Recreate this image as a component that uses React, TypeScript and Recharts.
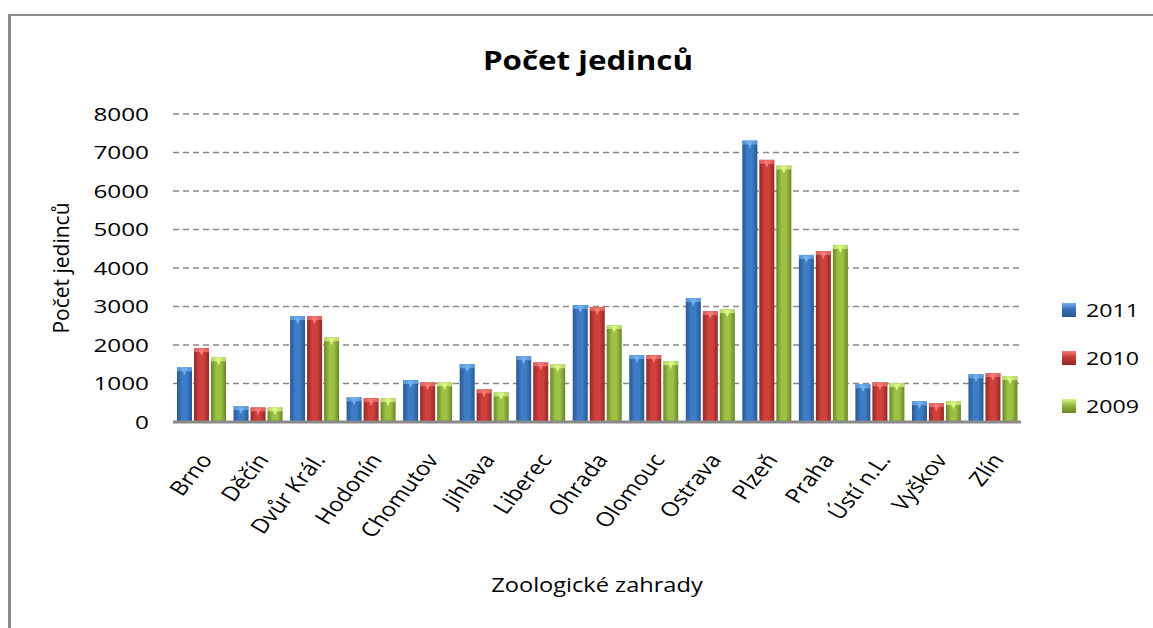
import { BarChart, Bar, XAxis, YAxis, CartesianGrid, Label } from 'recharts';

const categories = ['Brno', 'Děčín', 'Dvůr Král.', 'Hodonín', 'Chomutov', 'Jihlava', 'Liberec', 'Ohrada', 'Olomouc', 'Ostrava', 'Plzeň', 'Praha', 'Ústí n.L.', 'Vyškov', 'Zlín'];
const values2011 = [1420, 410, 2750, 640, 1090, 1500, 1710, 3040, 1740, 3220, 7310, 4340, 980, 540, 1240];
const values2010 = [1920, 380, 2750, 620, 1030, 850, 1550, 2990, 1740, 2880, 6810, 4440, 1030, 490, 1270];
const values2009 = [1680, 380, 2200, 620, 1030, 770, 1500, 2520, 1580, 2930, 6660, 4600, 1010, 540, 1190];
const yTicks = [0, 1000, 2000, 3000, 4000, 5000, 6000, 7000, 8000];

const FONT = '"Open Sans", sans-serif';

// series styling: key, legend name, gradient edge/mid colours, highlight on top
const series = [
  { key: 'y2011', name: '2011', edge: '#285891', mid: '#3d7cc6', top: '#74b0f0', swatch: '#3a70b4' },
  { key: 'y2010', name: '2010', edge: '#942826', mid: '#d0403c', top: '#f47b77', swatch: '#c33b38' },
  { key: 'y2009', name: '2009', edge: '#6a8629', mid: '#9dc243', top: '#dcf588', swatch: '#92b83c' },
];

const data = categories.map((name, i) => ({
  name,
  y2011: values2011[i],
  y2010: values2010[i],
  y2009: values2009[i],
}));

function makeShape(top: string) {
  return (props: any) => {
    const { x, y, width, height, fill } = props;
    if (!height || height <= 0) return <g />;
    const capH = Math.min(4, height);
    return (
      <g>
        <rect x={x} y={y} width={width} height={height} fill={fill} />
        <rect x={x} y={y} width={width} height={capH} fill={top} opacity={0.7} />
        <polygon
          points={`${x + width * 0.3},${y + 1} ${x + width * 0.7},${y + 1} ${x + width / 2},${y + Math.min(8, height)}`}
          fill={top}
        />
      </g>
    );
  };
}

const YTick = (props: any) => {
  const { x, y, payload } = props;
  return (
    <g transform={`translate(${x},${y})`}>
      <text textAnchor="end" dy="0.36em" transform="scale(1.28,1)" fontSize={19} fontFamily={FONT} fill="#000">
        {payload.value}
      </text>
    </g>
  );
};

const XTick = (props: any) => {
  const { x, y, payload } = props;
  return (
    <g transform={`translate(${x + 12},${y + 30}) scale(1.2,1) rotate(-55)`}>
      <text textAnchor="end" fontSize={20} fontFamily={FONT} fill="#000">
        {payload.value}
      </text>
    </g>
  );
};

const XTitle = (props: any) => {
  const { viewBox, value } = props;
  const cx = viewBox.x + viewBox.width / 2;
  const by = viewBox.y + viewBox.height - 10;
  return (
    <g transform={`translate(${cx},${by}) scale(1.18,1)`}>
      <text textAnchor="middle" fontSize={20} fontFamily={FONT} fill="#000">
        {value}
      </text>
    </g>
  );
};

export default function App() {
  return (
    <div style={{ position: 'absolute', left: 0, top: 0, width: 1153, height: 628, background: '#fff' }}>
      <div
        style={{
          position: 'absolute',
          left: 8,
          top: 14,
          width: 1145,
          height: 614,
          borderTop: '2px solid #8c8c8c',
          borderLeft: '3px solid #8c8c8c',
          boxSizing: 'border-box',
        }}
      />
      <div
        style={{
          position: 'absolute',
          left: 0,
          width: 1176,
          top: 41,
          textAlign: 'center',
          fontFamily: FONT,
          fontWeight: 700,
          fontSize: 27,
          transform: 'scaleX(1.16)',
          transformOrigin: '588px 0',
        }}
      >
        Počet jedinců
      </div>
      <div style={{ position: 'absolute', left: 0, top: 0 }}>
        <BarChart
          width={1153}
          height={628}
          data={data}
          margin={{ top: 114, right: 132, bottom: 26, left: 40 }}
          barSize={15}
          barGap={2}
        >
          <defs>
            {series.map((s) => (
              <linearGradient key={s.key} id={`grad-${s.key}`} x1="0" y1="0" x2="1" y2="0">
                <stop offset="0%" stopColor={s.edge} />
                <stop offset="35%" stopColor={s.mid} />
                <stop offset="65%" stopColor={s.mid} />
                <stop offset="100%" stopColor={s.edge} />
              </linearGradient>
            ))}
          </defs>
          <CartesianGrid vertical={false} stroke="#8a8a8a" strokeWidth={1.3} strokeDasharray="6 4" />
          <XAxis
            dataKey="name"
            height={180}
            interval={0}
            tickLine={false}
            axisLine={{ stroke: '#8a8a8a', strokeWidth: 3 }}
            tick={<XTick />}
          >
            <Label value="Zoologické zahrady" position="insideBottom" content={<XTitle />} />
          </XAxis>
          <YAxis
            width={133}
            domain={[0, 8000]}
            ticks={yTicks}
            interval={0}
            tickLine={false}
            axisLine={false}
            tickMargin={18}
            tick={<YTick />}
          >
            <Label
              value="Počet jedinců"
              angle={-90}
              position="insideLeft"
              offset={22}
              style={{ fontFamily: FONT, fontSize: 21, fill: '#000', textAnchor: 'middle' }}
            />
          </YAxis>
          {series.map((s) => (
            <Bar
              key={s.key}
              dataKey={s.key}
              name={s.name}
              fill={`url(#grad-${s.key})`}
              shape={makeShape(s.top)}
              isAnimationActive={false}
            />
          ))}
        </BarChart>
      </div>
      <div style={{ position: 'absolute', left: 1062, top: 286, fontFamily: FONT }}>
        {series.map((s) => (
          <div key={s.key} style={{ display: 'flex', alignItems: 'center', height: 48 }}>
            <span
              style={{
                display: 'inline-block',
                width: 14,
                height: 14,
                background: `linear-gradient(180deg, ${s.top} 0%, ${s.swatch} 45%, ${s.edge} 100%)`,
                marginRight: 10,
              }}
            />
            <span style={{ fontSize: 19, display: 'inline-block', transform: 'scaleX(1.22)', transformOrigin: 'left center' }}>
              {s.name}
            </span>
          </div>
        ))}
      </div>
    </div>
  );
}
